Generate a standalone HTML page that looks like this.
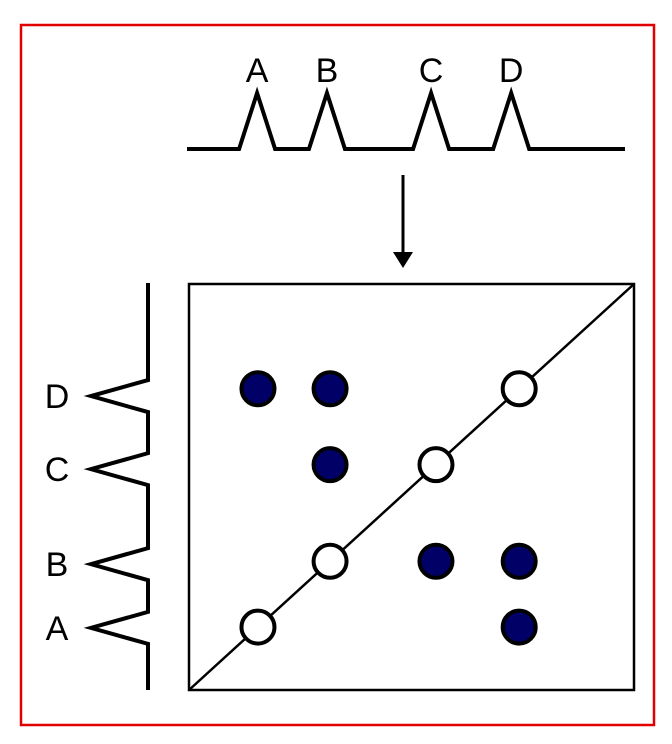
<!DOCTYPE html>
<html><head><meta charset="utf-8"><style>
html,body{margin:0;padding:0;background:#fff;}
svg{display:block;font-family:"Liberation Sans",sans-serif;}
</style></head><body>
<svg id="chart" width="672" height="744" viewBox="0 0 672 744">
<rect x="21" y="25" width="633" height="700" fill="none" stroke="#e00000" stroke-width="2.5"/>
<g id="topg"></g>
<g id="leftg"></g>
<g>
<line x1="403" y1="175" x2="403" y2="255" stroke="#000" stroke-width="3"/>
<polygon points="393,252 413,252 403,268" fill="#000"/>
</g>
<rect x="189" y="284" width="445" height="406" fill="#fff" stroke="#000" stroke-width="2.5"/>
<line id="diag" stroke="#000" stroke-width="2.5"/>
<g id="pts"></g>
</svg>
<script>
const categories = ["A","B","C","D"];
const peakTimes = [15.3, 31.0, 54.4, 72.4];
const spotTimes = [15.5, 31.7, 55.5, 74.2];
// pairs [xIndex, yIndex] of off-diagonal spots
const offDiagX = [0, 1, 1, 2, 3, 3];
const offDiagY = [3, 3, 2, 1, 1, 0];

const X0=189, X1=634, Y0=690, Y1=284;
const sx = t => X0 + t/100*(X1-X0);
const sy = t => Y0 - t/100*(Y0-Y1);
const NS="http://www.w3.org/2000/svg";
function mk(tag, attrs, parent){const e=document.createElementNS(NS,tag);for(const k in attrs)e.setAttribute(k,attrs[k]);parent.appendChild(e);return e;}

const topG=document.getElementById('topg');
let d="M187,149";
peakTimes.forEach(t=>{const x=sx(t);d+=` L${x-18},149 L${x},93 L${x+18},149`;});
d+=" L625,149";
const tp=mk('path',{d:d,fill:'none',stroke:'#000','stroke-width':4,'stroke-linejoin':'miter'},topG);


peakTimes.forEach((t,i)=>{
  const tx=mk('text',{x:sx(t),y:82,'font-size':34,'text-anchor':'middle'},topG);
  tx.textContent=categories[i];
  
  
});

const leftG=document.getElementById('leftg');
let d2="M148,283";
peakTimes.slice().reverse().forEach(t=>{const y=sy(t);d2+=` L148,${y-16} L91,${y} L148,${y+16}`;});
d2+=" L148,690";
const lp=mk('path',{d:d2,fill:'none',stroke:'#000','stroke-width':4},leftG);


peakTimes.forEach((t,i)=>{
  const tx=mk('text',{x:57,y:sy(t)+12,'font-size':34,'text-anchor':'middle'},leftG);
  tx.textContent=categories[i];
  
  
});

const dg=document.getElementById('diag');
dg.setAttribute('x1',sx(0));dg.setAttribute('y1',sy(0));dg.setAttribute('x2',sx(100));dg.setAttribute('y2',sy(100));

const pts=document.getElementById('pts');
spotTimes.forEach((t,i)=>{
  const c=mk('circle',{cx:sx(t),cy:sy(t),r:16.5,fill:'#fff',stroke:'#000','stroke-width':4},pts);
  
  
});
offDiagX.forEach((xi,k)=>{
  const yi=offDiagY[k];
  const c=mk('circle',{cx:sx(spotTimes[xi]),cy:sy(spotTimes[yi]),r:16.5,fill:'#000066',stroke:'#000','stroke-width':4},pts);
  
  
});
</script>
</body></html>
